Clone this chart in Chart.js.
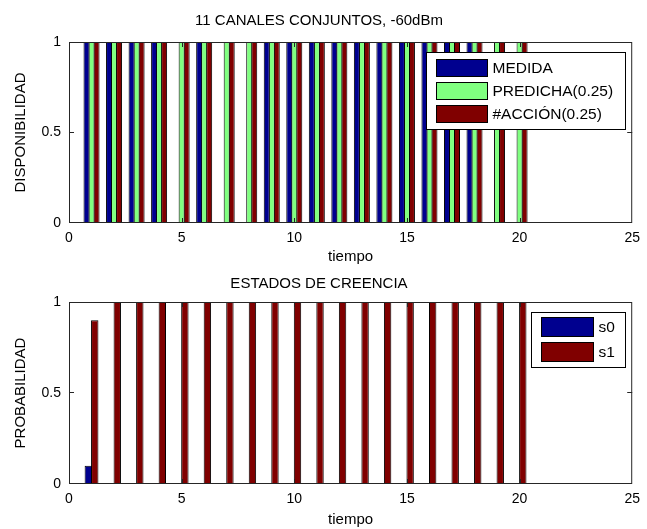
<!DOCTYPE html>
<html>
<head>
<meta charset="utf-8">
<script src="https://cdn.jsdelivr.net/npm/chart.js@4"></script>
<style>
  body { margin: 0; background: #fff; }
  .caja { position: absolute; left: 0; width: 647px; }
</style>
</head>
<body>
<div class="caja" style="top:0;height:270px"><canvas id="disponibilidadChart"></canvas></div>
<div class="caja" style="top:270px;height:259px"><canvas id="creenciaChart"></canvas></div>
<script>
// datos
const tiempo   = [1, 2, 3, 4, 5, 6, 7, 8, 9, 10, 11, 12, 13, 14, 15, 16, 17, 18, 19, 20];
const medida   = [1, 1, 1, 1, 0, 1, 0, 0, 1, 1, 1, 1, 1, 1, 1, 1, 1, 1, 0, 0];
const predicha = [1, 1, 1, 1, 1, 1, 1, 1, 1, 1, 1, 1, 1, 1, 1, 1, 1, 1, 1, 1];
const accion   = [1, 1, 1, 1, 1, 1, 1, 1, 1, 1, 1, 1, 1, 1, 1, 1, 1, 1, 1, 1];
const s0       = [0.1, 0, 0, 0, 0, 0, 0, 0, 0, 0, 0, 0, 0, 0, 0, 0, 0, 0, 0, 0];
const s1       = [0.9, 1, 1, 1, 1, 1, 1, 1, 1, 1, 1, 1, 1, 1, 1, 1, 1, 1, 1, 1];
const xTicks = [0, 5, 10, 15, 20, 25];
const yTicks = [0, 0.5, 1];

Chart.defaults.font.family = "'Liberation Sans', Arial, sans-serif";
Chart.defaults.color = '#000';

const toXY = (vals) => vals.map((v, i) => ({ x: tiempo[i], y: v }));

// caja de ejes con marcas hacia dentro (estilo matlab)
const marco = {
  id: 'marco',
  afterDatasetsDraw(chart) {
    const { ctx, chartArea: { left, right, top, bottom }, scales: { x, y } } = chart;
    ctx.save();
    ctx.strokeStyle = '#262626';
    ctx.lineWidth = 1;
    ctx.strokeRect(left + 0.5, top + 0.5, right - left - 1, bottom - top - 1);
    ctx.beginPath();
    xTicks.slice(1, -1).forEach(v => {
      const px = Math.round(x.getPixelForValue(v)) + 0.5;
      ctx.moveTo(px, bottom); ctx.lineTo(px, bottom - 5);
      ctx.moveTo(px, top); ctx.lineTo(px, top + 5);
    });
    yTicks.slice(1, -1).forEach(v => {
      const py = Math.round(y.getPixelForValue(v)) - 0.5;
      ctx.moveTo(left, py); ctx.lineTo(left + 5, py);
      ctx.moveTo(right, py); ctx.lineTo(right - 5, py);
    });
    ctx.stroke();
    ctx.restore();
  }
};

const leyenda = {
  id: 'leyenda',
  afterDraw(chart, args, o) {
    const { ctx, chartArea } = chart;
    const sets = chart.data.datasets;
    ctx.save();
    ctx.font = "15.5px 'Liberation Sans', Arial, sans-serif";
    let maxW = 0;
    sets.forEach(d => { maxW = Math.max(maxW, ctx.measureText(d.label).width); });
    const w = Math.round(10 + o.swW + 6 + maxW + o.padR);
    const h = Math.round(o.padT + (sets.length - 1) * o.pitch + o.swH + o.padB);
    const bx = Math.round(chartArea.right - o.right - w) + 0.5;
    const by = Math.round(chartArea.top + o.top) + 0.5;
    ctx.fillStyle = '#fff';
    ctx.fillRect(bx, by, w, h);
    ctx.strokeStyle = '#000';
    ctx.lineWidth = 1;
    ctx.strokeRect(bx, by, w, h);
    sets.forEach((d, i) => {
      const sy = Math.round(by + o.padT + i * o.pitch);
      ctx.fillStyle = d.backgroundColor;
      ctx.fillRect(bx + 10, sy + 0.5, o.swW, o.swH);
      ctx.strokeRect(bx + 10, sy + 0.5, o.swW, o.swH);
      ctx.fillStyle = '#000';
      ctx.textBaseline = 'middle';
      ctx.fillText(d.label, bx + 10 + o.swW + 5, sy + o.swH / 2 + 1);
    });
    ctx.restore();
  }
};

function ejes(yTitulo, xPad) {
  return {
    x: {
      type: 'linear',
      min: 0,
      max: 25,
      offset: false,
      grid: { display: false, drawTicks: false, offset: false },
      border: { display: false },
      afterBuildTicks: s => { s.ticks = xTicks.map(v => ({ value: v })); },
      afterFit: s => { s.height = xPad.h; },
      ticks: { font: { size: 14 }, padding: 7, maxRotation: 0, callback: v => String(v) },
      title: { display: true, text: 'tiempo', font: { size: 15 }, padding: { top: 0, bottom: xPad.tb } }
    },
    y: {
      min: 0,
      max: 1,
      grid: { display: false, drawTicks: false },
      border: { display: false },
      afterBuildTicks: s => { s.ticks = yTicks.map(v => ({ value: v })); },
      afterFit: s => { s.width = 69; },
      ticks: { font: { size: 14 }, padding: 8, callback: v => String(v) },
      title: { display: true, text: yTitulo, font: { size: 15 }, padding: { top: 12, bottom: 0 } }
    }
  };
}

new Chart(document.getElementById('disponibilidadChart'), {
  type: 'bar',
  data: {
    datasets: [
      { label: 'MEDIDA', data: toXY(medida), backgroundColor: '#00008F' },
      { label: 'PREDICHA(0.25)', data: toXY(predicha), backgroundColor: '#80FF80' },
      { label: '#ACCIÓN(0.25)', data: toXY(accion), backgroundColor: '#800000' }
    ]
  },
  options: {
    responsive: true,
    maintainAspectRatio: false,
    animation: false,
    layout: { padding: { left: 0, right: 9, top: 0, bottom: 0 } },
    datasets: { bar: { categoryPercentage: 0.667, barPercentage: 1.2, borderWidth: 1, borderColor: '#000', borderSkipped: false } },
    plugins: {
      legend: { display: false },
      tooltip: { enabled: false },
      title: {
        display: true,
        text: '11 CANALES CONJUNTOS, -60dBm',
        font: { size: 15, weight: 'normal' },
        color: '#000',
        padding: { top: 12, bottom: 12 }
      },
      leyenda: { right: 7, top: 10, swW: 51, swH: 17, pitch: 23.3, padT: 6, padB: 7, padR: 11 }
    },
    scales: ejes('DISPONIBILIDAD', { h: 47, tb: 4 })
  },
  plugins: [marco, leyenda]
});

new Chart(document.getElementById('creenciaChart'), {
  type: 'bar',
  data: {
    datasets: [
      { label: 's0', data: toXY(s0), backgroundColor: '#00008F' },
      { label: 's1', data: toXY(s1), backgroundColor: '#800000' }
    ]
  },
  options: {
    responsive: true,
    maintainAspectRatio: false,
    animation: false,
    layout: { padding: { left: 0, right: 9, top: 0, bottom: 0 } },
    datasets: { bar: { categoryPercentage: 0.571, barPercentage: 1.15, borderWidth: 1, borderColor: '#000', borderSkipped: false } },
    plugins: {
      legend: { display: false },
      tooltip: { enabled: false },
      title: {
        display: true,
        text: 'ESTADOS DE CREENCIA',
        font: { size: 15, weight: 'normal' },
        color: '#000',
        padding: { top: 5, bottom: 9 }
      },
      leyenda: { right: 7, top: 10, swW: 52, swH: 19, pitch: 25, padT: 4.5, padB: 6, padR: 10 }
    },
    scales: ejes('PROBABILIDAD', { h: 45, tb: 0 })
  },
  plugins: [marco, leyenda]
});
</script>
</body>
</html>
